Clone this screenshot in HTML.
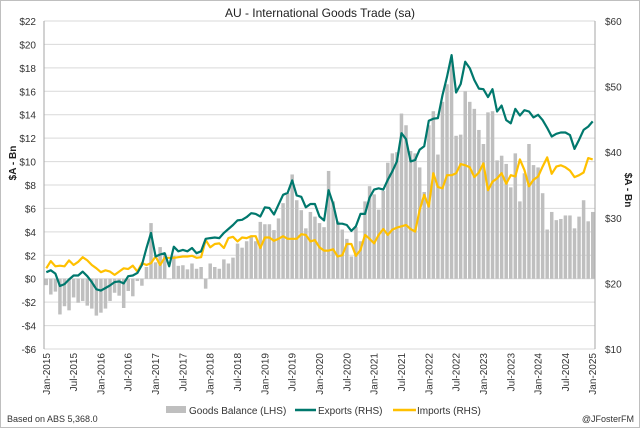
<!DOCTYPE html>
<html><head><meta charset="utf-8"><style>
body{margin:0;background:#fff;}
svg{display:block;font-family:"Liberation Sans",Arial,sans-serif;}
</style></head><body>
<svg id="chart" width="640" height="428" viewBox="0 0 640 428">
<rect x="0.5" y="0.5" width="639" height="427" fill="#fff" stroke="#bfbfbf"/>
<text x="320" y="17" text-anchor="middle" font-size="12" fill="#222">AU - International Goods Trade (sa)</text>
<g id="grid"></g><g id="bars"></g><g id="lines"></g><g id="axes"></g>
<text transform="translate(16,163) rotate(-90)" text-anchor="middle" font-size="10" font-weight="bold" fill="#222">$A - Bn</text>
<text transform="translate(625,190) rotate(90)" text-anchor="middle" font-size="10" font-weight="bold" fill="#222">$A - Bn</text>
<g>
<rect x="166" y="406" width="20" height="7" fill="#bfbfbf"/>
<text x="189" y="414" font-size="10" fill="#333">Goods Balance (LHS)</text>
<line x1="295" y1="410" x2="316" y2="410" stroke="#00786d" stroke-width="2.5"/>
<text x="318" y="414" font-size="10" fill="#333">Exports (RHS)</text>
<line x1="393" y1="410" x2="416" y2="410" stroke="#ffc000" stroke-width="2.5"/>
<text x="417" y="414" font-size="10" fill="#333">Imports (RHS)</text>
</g>
<text x="7" y="422" font-size="9" fill="#333">Based on ABS 5,368.0</text>
<text x="634" y="422" text-anchor="end" font-size="9" fill="#333">@JFosterFM</text>
</svg>
<script>
const balance=[-0.55,-1.35,-1.1,-3.05,-2.35,-2.7,-1.6,-2.05,-1.9,-2.3,-2.55,-3.15,-2.9,-2.55,-1.9,-1.2,-1.45,-2.5,-1.05,-1.5,-0.2,-0.6,1.0,4.75,1.4,2.7,2.15,-0.05,1.95,1.1,1.15,0.8,1.3,0.85,1.0,-0.85,1.3,1.0,0.85,1.65,1.3,1.8,3.0,2.65,3.2,3.65,3.2,4.85,4.65,4.65,4.15,5.15,6.45,7.3,8.9,6.7,5.85,4.3,5.7,5.3,4.75,4.4,9.2,6.6,4.9,4.2,3.4,1.9,4.4,3.2,6.6,7.9,7.2,5.9,7.5,9.9,10.7,10.8,14.1,13.1,10.9,10.7,9.5,7.4,13.1,14.3,10.6,15.1,16.6,18.5,12.2,12.3,16.0,15.1,14.5,12.7,11.5,14.2,14.3,10.1,10.5,9.8,7.8,10.7,6.6,9.0,11.5,9.7,9.5,7.3,4.2,5.7,5.0,5.1,5.4,5.4,4.3,5.3,6.7,4.9,5.7];
const exportsRhs=[21.7,22.0,21.5,19.6,19.9,20.6,21.2,21.2,21.8,21.1,20.2,19.1,18.9,19.3,19.7,20.2,20.3,20.0,21.1,21.2,21.6,22.8,25.4,27.7,24.1,24.4,24.6,22.6,25.6,24.9,25.1,24.9,25.4,24.6,24.9,26.8,26.9,27.0,26.9,27.7,28.3,28.9,29.6,29.7,30.1,30.7,30.6,30.2,31.6,31.5,30.5,32.0,33.5,33.8,35.7,33.4,33.2,31.6,32.1,32.1,30.2,29.6,34.2,32.1,29.1,29.1,28.9,28.0,28.7,30.6,30.6,33.1,34.3,34.5,34.3,35.8,37.1,38.6,42.9,42.0,38.6,38.8,40.4,40.9,44.8,45.1,45.2,48.7,51.5,54.8,49.1,50.4,53.8,52.8,51.0,49.7,49.6,48.4,49.6,46.2,47.1,44.9,44.4,46.6,45.6,46.4,46.2,45.3,45.7,44.9,43.7,42.4,42.8,43.0,43.0,42.6,40.5,41.9,43.4,43.9,44.7];
const importsRhs=[22.3,23.4,22.6,22.7,22.6,23.5,22.8,23.3,24.0,23.5,22.8,22.3,21.7,22.0,21.8,21.3,21.8,22.3,22.2,22.7,21.8,23.1,22.8,23.1,24.1,22.8,23.9,23.9,23.9,24.0,24.1,24.1,24.2,23.9,24.0,26.6,25.5,26.0,26.1,25.4,26.9,27.1,26.4,27.0,26.9,27.2,27.2,25.4,27.0,27.0,26.5,26.8,27.2,26.8,26.8,26.8,27.5,27.4,26.4,26.6,25.5,25.0,25.0,25.2,24.1,24.3,26.0,26.0,24.2,25.1,27.4,26.8,26.1,27.4,28.3,27.4,28.2,28.5,28.7,28.9,28.3,27.9,31.2,33.5,31.7,36.8,34.7,34.5,36.5,36.5,36.8,38.2,38.0,37.7,36.2,36.9,38.3,34.2,35.5,36.0,36.8,35.2,36.5,36.3,38.9,37.3,34.8,35.8,36.3,37.8,39.2,36.7,37.8,38.0,37.7,37.2,36.2,36.5,36.9,39.1,38.9];
const leftTicks=[22,20,18,16,14,12,10,8,6,4,2,0,-2,-4,-6];
const rightTicks=[60,50,40,30,20,10];
const startYear=2015;

const NS="http://www.w3.org/2000/svg";
const X0=44,X1=595,Y0=21,Y1=349;
const n=balance.length, step=(X1-X0)/n;
const xC=i=>X0+step*(i+0.5);
const yL=v=>Y0+(22-v)*(Y1-Y0)/28;
const yR=v=>Y0+(60-v)*(Y1-Y0)/50;
function mk(tag,attrs,parent){const e=document.createElementNS(NS,tag);for(const k in attrs)e.setAttribute(k,attrs[k]);parent.appendChild(e);return e;}
const grid=document.getElementById('grid'),bars=document.getElementById('bars'),lines=document.getElementById('lines'),axes=document.getElementById('axes');
leftTicks.forEach(t=>{
  const y=yL(t);
  const g=mk('line',{x1:X0,x2:X1,y1:y,y2:y,stroke:'#d9d9d9','stroke-width':1},grid);
  
  
  const lb=mk('text',{x:36,y:y+4,'text-anchor':'end','font-size':10,fill:'#333'},axes);
  lb.textContent=(t<0?'-$':'$')+Math.abs(t);
  
  
});
rightTicks.forEach(t=>{
  const lb=mk('text',{x:605,y:yR(t)+4,'font-size':10,fill:'#333'},axes);
  lb.textContent='$'+t;
  
  
});
const al=mk('line',{x1:X0,x2:X0,y1:Y0,y2:Y1,stroke:'#a6a6a6'},axes);


const ar=mk('line',{x1:X1,x2:X1,y1:Y0,y2:Y1,stroke:'#a6a6a6'},axes);


const z=yL(0);
balance.forEach((v,i)=>{
  const y=yL(v);
  const r=mk('rect',{x:xC(i)-1.75,width:3.5,y:Math.min(y,z),height:Math.max(0.5,Math.abs(y-z)),fill:'#bfbfbf'},bars);
  
  
});
function line(arr,color,name){
  const p=mk('polyline',{points:arr.map((v,i)=>xC(i).toFixed(1)+','+yR(v).toFixed(1)).join(' '),fill:'none',stroke:color,'stroke-width':2.2,'stroke-linejoin':'round'},lines);
  
  
}
line(importsRhs,'#ffc000','imports-line');
line(exportsRhs,'#00786d','exports-line');
const mon=['Jan','Jul'];
for(let i=0;i<n;i+=6){
  const x=xC(i)+3.5;
  const lb=mk('text',{transform:`translate(${x.toFixed(1)},353) rotate(-90)`,'text-anchor':'end','font-size':10,fill:'#333'},axes);
  lb.textContent=mon[(i/6)%2]+'-'+(startYear+Math.floor(i/12));
  
  
}
</script>
</body></html>
